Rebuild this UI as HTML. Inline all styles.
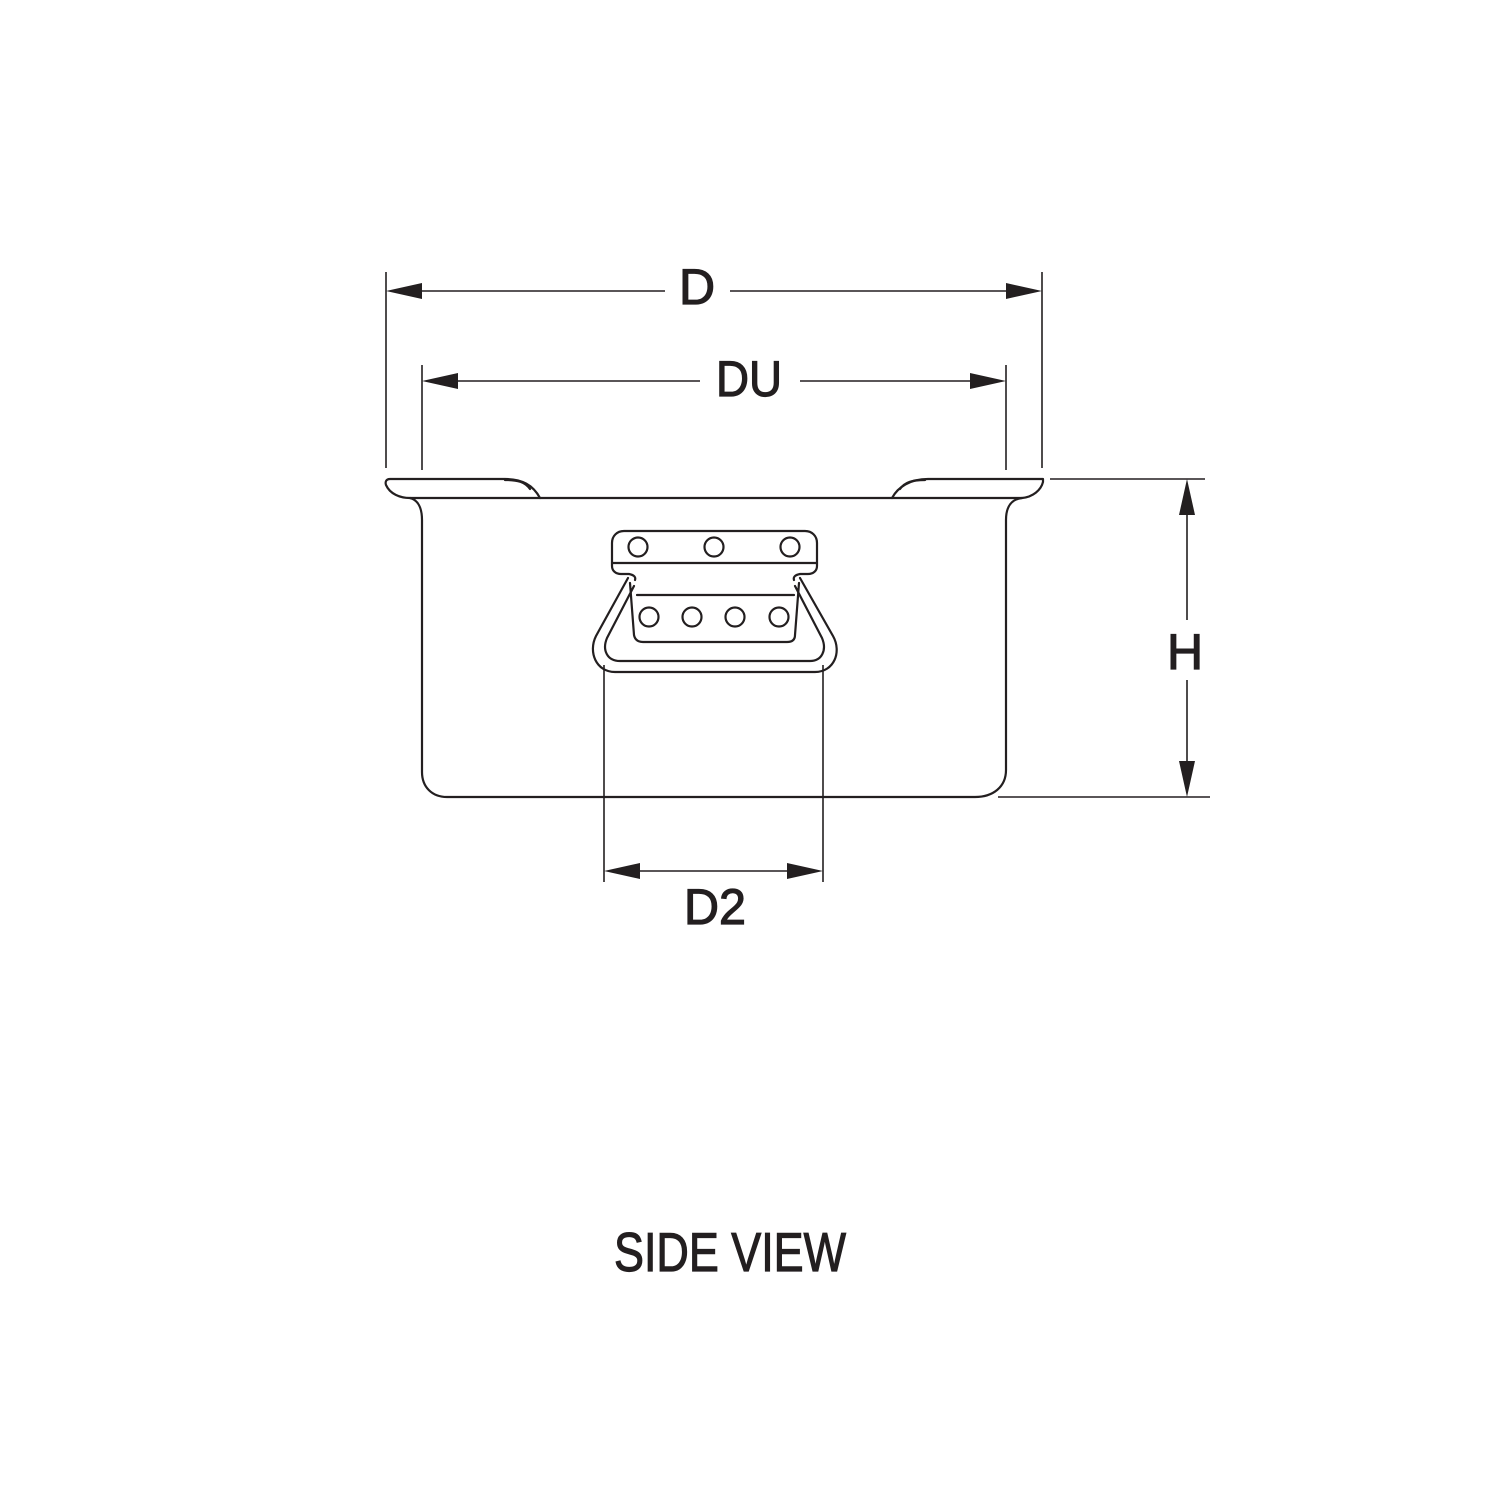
<!DOCTYPE html>
<html><head><meta charset="utf-8"><style>html,body{margin:0;padding:0;background:#fff}svg{display:block}text{font-family:"Liberation Sans Narrow","Liberation Sans",sans-serif;fill:#231f20;stroke:#231f20;stroke-width:1.2}</style></head>
<body>
<svg width="1500" height="1500" viewBox="0 0 1500 1500" xmlns="http://www.w3.org/2000/svg">
<g fill="none" stroke="#231f20" stroke-width="2.2" stroke-linejoin="round" stroke-linecap="round">
<path d="M540,498 C533,485 522,479 505,479 L390,479 C386,479 385,482 386,485 C390,494 400,498 410,498 C418,500 422,508 422,520 L422,772 C422,787 432,797 447,797 L975,797 C993,797 1006,787 1006,770 L1006,520 C1006,506 1012,499 1022,498 C1033,497 1041,490 1043,482 L1043,479 L928,479 C910,479 898,487 892,498"/>
<path d="M530,489 C525,482 518,480 505,480"/>
<path d="M900,489 C905,482 912,480 925,480"/>
<line x1="410" y1="498" x2="1022" y2="498"/>
<path d="M624,531 L805,531 C812,531 817,536 817,543 L817,566 C817,571 813,574 808,574 L800,574 C795,575 793,577 794,580 M612,543 C612,536 617,531 624,531 M612,543 L612,566 C612,571 616,574 621,574 L629,574 C634,575 636,577 635,580"/>
<line x1="612" y1="563" x2="817" y2="563"/>
<circle cx="638" cy="547" r="9.5"/><circle cx="714" cy="547" r="9.5"/><circle cx="790" cy="547" r="9.5"/>
<path d="M637,595 L794,595 M630,583 L634,635 C635,640 638,642 643,642 L787,642 C792,642 795,640 795,635 L799,583"/>
<circle cx="649" cy="617" r="9.5"/><circle cx="692" cy="617" r="9.5"/><circle cx="735" cy="617" r="9.5"/><circle cx="779" cy="617" r="9.5"/>
<path d="M628,578 L596,636 C588,652 596,672 615,672 L815,672 C834,672 842,652 833,636 L800,578"/>
<path d="M634,586 L607,638 C602,650 607,661 620,661 L810,661 C822,661 827,650 822,638 L795,586"/>
</g>
<g stroke="#231f20" stroke-width="1.6" fill="none">
<line x1="386" y1="272" x2="386" y2="468"/>
<line x1="1042" y1="272" x2="1042" y2="468"/>
<line x1="422" y1="365" x2="422" y2="470"/>
<line x1="1006" y1="365" x2="1006" y2="470"/>
<line x1="1050" y1="479" x2="1205" y2="479"/>
<line x1="998" y1="797" x2="1210" y2="797"/>
<line x1="604" y1="665" x2="604" y2="882"/>
<line x1="823" y1="665" x2="823" y2="882"/>
<line x1="400" y1="291" x2="665" y2="291"/><line x1="730" y1="291" x2="1030" y2="291"/>
<line x1="435" y1="381" x2="700" y2="381"/><line x1="800" y1="381" x2="995" y2="381"/>
<line x1="1187" y1="495" x2="1187" y2="620"/><line x1="1187" y1="680" x2="1187" y2="785"/>
<line x1="615" y1="871" x2="812" y2="871"/>
</g>
<g fill="#231f20">
<polygon points="386,291 422,283 422,299"/><polygon points="1042,291 1006,283 1006,299"/>
<polygon points="422,381 458,373 458,389"/><polygon points="1006,381 970,373 970,389"/>
<polygon points="1187,479 1179,515 1195,515"/><polygon points="1187,797 1179,761 1195,761"/>
<polygon points="604,871 640,863 640,879"/><polygon points="823,871 787,863 787,879"/>
</g>
<text x="697" y="304" font-size="50" text-anchor="middle">D</text>
<text x="749" y="396" font-size="50" text-anchor="middle" textLength="66" lengthAdjust="spacingAndGlyphs">DU</text>
<text x="1185" y="669" font-size="50" text-anchor="middle">H</text>
<text x="715" y="924" font-size="50" text-anchor="middle" textLength="62" lengthAdjust="spacingAndGlyphs">D2</text>
<text x="614" y="1271" font-size="55" textLength="232" lengthAdjust="spacingAndGlyphs">SIDE VIEW</text>
</svg>
</body></html>
